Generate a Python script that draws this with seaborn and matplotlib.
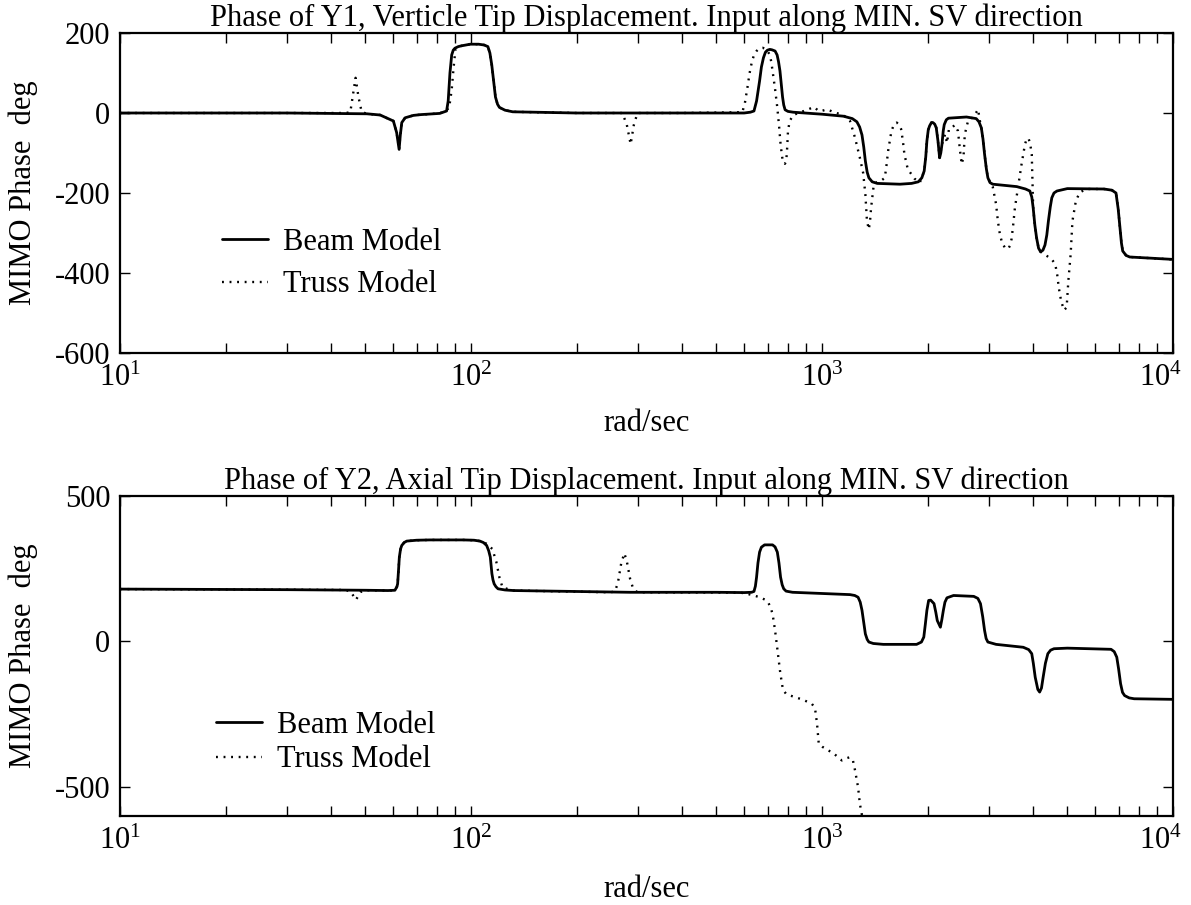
import numpy as np
import pandas as pd
import matplotlib
matplotlib.use("Agg")
import matplotlib.pyplot as plt
import matplotlib.transforms as mtransforms
import seaborn as sns
from matplotlib.ticker import LogLocator, LogFormatterSciNotation, FixedLocator

# ---------------- data ----------------
top_beam_freq = [10, 30, 50.5, 55.1, 60.1, 61.4, 62.1, 62.4, 62.9, 63.5, 64.9, 68.5, 72, 81.5,
                 85.2, 86.1, 87.1, 88.1, 89, 90, 92, 94, 99.5, 105, 109, 111.7, 113.2, 114.6,
                 116, 117.4, 119, 120.5, 125, 131.5,
                 200, 400, 600, 625, 640, 651, 664, 672, 681, 690, 699, 710, 720, 735, 745, 752,
                 759, 766, 772, 778, 785, 800, 828,
                 1000, 1151, 1220, 1257, 1280, 1300, 1315, 1329, 1345, 1360, 1390, 1437, 1668,
                 1800, 1882, 1925, 1955, 1975, 1990, 2008, 2026, 2050, 2071, 2095, 2116, 2140,
                 2163, 2180, 2197, 2215, 2230, 2260, 2292, 2580, 2750, 2800, 2844, 2875, 2905,
                 2940, 2969, 3010, 3066, 3587, 3800, 3910, 3960, 3996, 4040, 4086, 4140, 4196,
                 4260, 4318, 4370, 4416, 4470, 4516, 4580, 4671, 5000, 6360, 6700, 6880, 6980,
                 7060, 7130, 7190, 7350, 7530, 10000]
top_beam_phase = [0, 0, -2, -5, -20, -49, -78, -91, -55, -24, -12, -6, -4, -1,
                  5, 30, 100, 145, 157, 162, 166, 168, 172, 172, 170, 166, 150, 120,
                  80, 40, 22, 14, 7, 3,
                  0, 0, 0, 2, 5, 30, 80, 115, 138, 152, 157, 159, 158, 155, 145, 128,
                  105, 70, 40, 20, 8, 4, 2,
                  -3, -8, -14, -22, -35, -55, -85, -120, -148, -162, -172, -176, -178,
                  -176, -172, -162, -145, -110, -70, -42, -32, -24, -24, -28, -37, -70,
                  -112, -100, -78, -45, -29, -17, -13, -10, -14, -22, -37, -65, -103,
                  -140, -162, -174, -178, -184, -190, -195, -210, -237, -280, -312, -338, -347,
                  -343, -330, -305, -270, -235, -212, -200, -195, -189, -190, -193, -200, -240,
                  -287, -325, -345, -356, -360, -366]

top_truss_freq = [10, 44, 45.3, 46, 46.9, 47.8, 48.8, 50.5, 55.1, 60.1, 61.4, 62.1, 62.4, 62.9,
                  63.5, 64.9, 68.5, 72, 81.5, 86.6, 88.1, 89.2, 90.3, 92, 94, 99.5, 105, 109,
                  111.7, 113.2, 114.6, 116, 117.4, 119, 120.5, 125, 131.5, 200, 270, 278, 285,
                  291, 298, 400, 593, 603, 613, 622, 632, 641, 651, 664, 678, 690, 700, 710, 717,
                  723, 735, 746, 755, 762, 770, 776, 784, 791, 796, 800, 809, 828, 870, 900, 950,
                  975, 995, 1035, 1080, 1150, 1202, 1242, 1282, 1310, 1329, 1343, 1360, 1372,
                  1380, 1405, 1440, 1470, 1510, 1527, 1543, 1577, 1605, 1633, 1660, 1680, 1700,
                  1717, 1755, 1834, 1900, 1955, 1975, 1990, 2008, 2026, 2050, 2071, 2095, 2116,
                  2140, 2163, 2197, 2243, 2270, 2300, 2342, 2390, 2440, 2470, 2500, 2530, 2552,
                  2608, 2700, 2785, 2810, 2844, 2875, 2905, 2940, 2969, 3066, 3133, 3170, 3212,
                  3260, 3322, 3390, 3430, 3468, 3505, 3545, 3620, 3703, 3787, 3830, 3873, 3915,
                  3959, 3996, 4040, 4086, 4140, 4196, 4367, 4516, 4619, 4680, 4728, 4800, 4893,
                  4977, 5033, 5110, 5170, 5287, 5420, 5650, 6360, 6700, 6880, 6980, 7060, 7130,
                  7190, 7350, 7530, 10000]
top_truss_phase = [0, 0, 2, 40, 88, 40, 3, -2, -5, -20, -49, -78, -91, -55,
                   -24, -12, -6, -4, -1, 12, 58, 113, 159, 165, 168, 172, 172, 170,
                   166, 150, 120, 80, 40, 22, 14, 7, 3, 0, 0, -30, -78,
                   -30, 0, 0, 2, 25, 63, 100, 130, 146, 155, 162, 163, 160, 155, 145, 128,
                   105, 60, 13, -35, -78, -110, -125, -127, -120, -85, -45, -20, -5, 2, 7, 15,
                   6, 5, 9, 2, -5, -20, -62, -112, -150, -203, -270, -291, -265,
                   -237, -178, -172, -170, -162, -130, -95, -45, -28, -24, -30, -40, -70,
                   -103, -140, -164, -174, -145, -110, -70, -42, -32, -24, -24, -28, -37,
                   -70, -112, -78, -53, -75, -40, -37, -30, -45, -90, -128, -110, -53,
                   -19, -10, 9, -15, -37, -65, -103, -140, -162, -185, -228, -270, -303,
                   -325, -337, -340, -332, -315, -280, -237, -185, -128, -78, -65, -63, -75,
                   -103, -237, -280, -312, -338, -347, -357, -366, -378, -405, -437, -470, -493,
                   -486, -420, -353, -270, -220, -199, -190, -190, -193, -200, -240, -287, -325,
                   -345, -356, -360, -366]

bot_beam_freq = [10, 30, 50, 58, 60.7, 61.5, 61.8, 62.2, 62.5, 63, 63.5, 64.5, 65.6, 70, 76.3,
                 95, 102, 106, 108.5, 110.8, 112.3, 113.5, 114.7, 115.5, 116.4, 117.8, 119.4,
                 125, 132.4, 284, 500, 600, 630, 640, 646, 651, 657, 664, 672, 686, 723, 735,
                 746, 754, 762, 770, 778, 790, 824, 1202, 1240, 1267, 1285, 1300, 1315, 1329,
                 1345, 1360, 1400, 1495, 1860, 1920, 1950, 1970, 1990, 2013, 2040, 2085, 2110,
                 2130, 2174, 2195, 2217, 2240, 2270, 2370, 2706, 2780, 2828, 2870, 2905, 2935,
                 2969, 3133, 3745, 3880, 3959, 4000, 4050, 4120, 4169, 4220, 4266, 4330, 4400,
                 4480, 4580, 5000, 6660, 6800, 6915, 7000, 7090, 7180, 7280, 7500, 7750, 10000]
bot_beam_phase = [180, 178, 176, 175, 176, 188, 198, 250, 290, 318, 330, 340, 345, 348, 349,
                  349, 348, 345, 340, 330, 312, 290, 233, 212, 198, 188, 181,
                  177, 175, 169, 169, 168, 169, 172, 190, 221, 270, 307, 324, 332, 332, 325,
                  307, 270, 221, 195, 181, 173, 169, 161, 158, 152, 135, 107, 65, 26,
                  7, -2, -7, -10, -10, -2, 15, 60, 107, 141, 142, 130, 100,
                  72, 49, 75, 107, 135, 150, 158, 155, 148, 130, 85, 38, 10,
                  -2, -10, -20, -28, -42, -75, -123, -165, -174, -160, -123, -75, -42,
                  -30, -25, -23, -27, -35, -54, -95, -145, -175, -186, -194, -197, -199]

bot_truss_freq = [10, 30, 44, 45.5, 47, 48.5, 50, 58, 60.7, 61.5, 61.8, 62.2, 62.5, 63, 63.5,
                  64.5, 65.6, 70, 76.3, 95, 102, 106, 108.5, 111, 115, 118, 120.5, 123, 132.4,
                  250, 257, 262, 268, 273.5, 278, 284, 290, 295, 310, 584, 611, 640, 664, 690,
                  702, 713, 723, 735, 747, 759, 770, 776, 790, 812, 881, 935, 950, 957, 968,
                  979, 1002, 1082, 1139, 1170, 1200, 1225, 1242, 1267, 1282, 1300, 1320]
bot_truss_phase = [180, 178, 177, 170, 143, 170, 176, 175, 176, 188, 198, 250, 290, 318, 330,
                   340, 345, 348, 349, 349, 348, 345, 342, 335, 318, 275, 220, 185, 175,
                   169, 172, 200, 270, 303, 275, 215, 180, 172, 169, 168, 164, 158, 152, 143,
                   135, 118, 95, 38, -31, -100, -150, -168, -180, -186, -200, -214, -225, -237, -283,
                   -352, -362, -386, -409, -402, -398, -409, -443, -501, -558, -598, -640]

titles = ["Phase of Y1, Verticle Tip Displacement. Input along MIN. SV direction",
          "Phase of Y2, Axial Tip Displacement. Input along MIN. SV direction"]
series_names = ["Beam Model", "Truss Model"]
y_label = "MIMO Phase  deg"
x_label = "rad/sec"
top_yticks = [200, 0, -200, -400, -600]
bot_yticks = [500, 0, -500]

# ---------------- style ----------------
sns.set_theme(style="ticks")
plt.rcParams["font.family"] = ["Liberation Serif", "DejaVu Serif"]
plt.rcParams["mathtext.default"] = "regular"
plt.rcParams["axes.unicode_minus"] = False
for key in ["text.color", "axes.labelcolor", "xtick.color", "ytick.color",
            "axes.edgecolor", "axes.titlecolor"]:
    plt.rcParams[key] = "black"
FS = 22

fig = plt.figure(figsize=(11.91, 9.05), dpi=100)
W, H = 1191.0, 905.0
ax1 = fig.add_axes([120 / W, 1 - 353 / H, 1053 / W, 320 / H])
ax2 = fig.add_axes([120 / W, 1 - 816 / H, 1053 / W, 320 / H])

panels = [
    (ax1, top_beam_freq, top_beam_phase, top_truss_freq, top_truss_phase, (-600, 200), top_yticks,
     (0.097, 0.392), 0.45, -0.176, "top"),
    (ax2, bot_beam_freq, bot_beam_phase, bot_truss_freq, bot_truss_phase, (-600, 500), bot_yticks,
     (0.091, 0.328), 0.17, -0.253, "baseline"),
]

for i, (ax, bf, bp, tf, tp, ylim, yt, legpos, lspace, xlab_y, xlab_va) in enumerate(panels):
    df_b = pd.DataFrame({"f": bf, "phase": bp})
    df_t = pd.DataFrame({"f": tf, "phase": tp})
    sns.lineplot(data=df_b, x="f", y="phase", ax=ax, color="black", lw=2.0,
                 estimator=None, sort=False, label=series_names[0])
    sns.lineplot(data=df_t, x="f", y="phase", ax=ax, color="black", lw=1.7,
                 linestyle=(0, (0.8, 2.4)), estimator=None, sort=False, label=series_names[1])
    ax.set_xscale("log")
    ax.set_xlim(10, 10000)
    ax.set_ylim(*ylim)
    ax.set_yticks(yt)
    ax.set_yticklabels([str(v) for v in yt])
    ax.xaxis.set_major_locator(FixedLocator([10, 100, 1000, 10000]))
    ax.xaxis.set_major_formatter(LogFormatterSciNotation())
    ax.xaxis.set_minor_locator(LogLocator(base=10, subs=np.arange(2, 10), numticks=20))
    ax.tick_params(axis="both", which="both", direction="in", top=True, right=True,
                   length=7.5, width=1.0, labelsize=FS, colors="black")
    ax.tick_params(axis="x", which="major", pad=8)
    ax.tick_params(axis="y", which="major", pad=7)
    for s in ax.spines.values():
        s.set_visible(True)
        s.set_linewidth(1.6)
        s.set_color("black")
    ax.grid(False)
    ax.set_facecolor("white")
    ax.set_title(titles[i], fontsize=FS, pad=-3, color="black")
    ax.set_xlabel(x_label, fontsize=FS, color="black")
    ax.xaxis.set_label_coords(0.5, xlab_y)
    ax.xaxis.label.set_va(xlab_va)
    ax.set_ylabel(y_label, fontsize=FS, color="black")
    ax.yaxis.set_label_coords(-0.078, 0.5)
    leg = ax.legend(loc="upper left", bbox_to_anchor=legpos, frameon=False, fontsize=FS,
                    borderaxespad=0, borderpad=0, handlelength=1.5, handletextpad=0.5,
                    labelspacing=lspace, labelcolor="black")

# keep the right-most tick label (10^4) inside the figure, as in the reference
fig.canvas.draw()
shift = mtransforms.ScaledTranslation(-12 / 100.0, 0, fig.dpi_scale_trans)
for ax in (ax1, ax2):
    labs = ax.get_xticklabels()
    if labs:
        labs[-1].set_transform(labs[-1].get_transform() + shift)

fig.savefig("out.png", dpi=100, facecolor="white")
